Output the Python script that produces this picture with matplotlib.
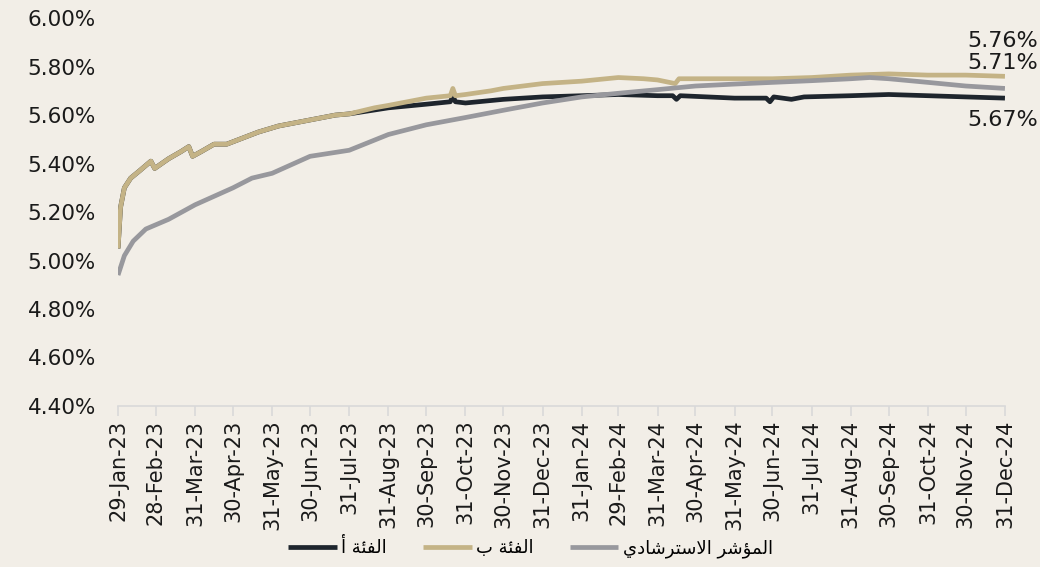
import numpy as np
import pandas as pd
import matplotlib
matplotlib.use("Agg")
import matplotlib.pyplot as plt

# --- data (values in %) ---
dates_b = ["2023-01-29", "2023-01-31", "2023-02-03", "2023-02-08", "2023-02-15", "2023-02-24",
           "2023-02-27", "2023-03-10", "2023-03-20", "2023-03-26", "2023-03-29", "2023-04-05",
           "2023-04-15", "2023-04-25", "2023-05-05", "2023-05-20", "2023-06-05", "2023-06-30",
           "2023-07-20", "2023-07-31", "2023-08-20", "2023-08-31", "2023-09-20", "2023-09-30",
           "2023-10-19", "2023-10-21", "2023-10-23", "2023-10-31", "2023-11-20", "2023-11-30",
           "2023-12-31", "2024-01-31", "2024-02-29", "2024-03-20", "2024-03-31", "2024-04-14",
           "2024-04-17", "2024-05-15", "2024-06-30", "2024-07-31", "2024-08-31", "2024-09-30",
           "2024-10-31", "2024-11-30", "2024-12-31"]
class_b = [5.05, 5.22, 5.30, 5.34, 5.37, 5.41,
           5.38, 5.42, 5.45, 5.47, 5.43, 5.45,
           5.48, 5.48, 5.50, 5.53, 5.555, 5.58,
           5.60, 5.605, 5.63, 5.64, 5.66, 5.67,
           5.68, 5.71, 5.68, 5.685, 5.70, 5.71,
           5.73, 5.74, 5.755, 5.75, 5.745, 5.73,
           5.75, 5.75, 5.75, 5.755, 5.765, 5.77,
           5.765, 5.765, 5.76]

dates_a = ["2023-01-29", "2023-01-31", "2023-02-03", "2023-02-08", "2023-02-15", "2023-02-24",
           "2023-02-27", "2023-03-10", "2023-03-20", "2023-03-26", "2023-03-29", "2023-04-05",
           "2023-04-15", "2023-04-25", "2023-05-05", "2023-05-20", "2023-06-05", "2023-06-30",
           "2023-07-20", "2023-07-31", "2023-08-31", "2023-09-30", "2023-10-19", "2023-10-21",
           "2023-10-23", "2023-10-31", "2023-11-30", "2023-12-31", "2024-01-31", "2024-02-29",
           "2024-03-31", "2024-04-12", "2024-04-15", "2024-04-18", "2024-05-31", "2024-06-25",
           "2024-06-28", "2024-07-01", "2024-07-15", "2024-07-25", "2024-08-31", "2024-09-30",
           "2024-10-31", "2024-11-30", "2024-12-31"]
class_a = [5.05, 5.22, 5.30, 5.34, 5.37, 5.41,
           5.38, 5.42, 5.45, 5.47, 5.43, 5.45,
           5.48, 5.48, 5.50, 5.53, 5.555, 5.58,
           5.60, 5.605, 5.63, 5.645, 5.655, 5.68,
           5.655, 5.65, 5.665, 5.675, 5.68, 5.685,
           5.68, 5.68, 5.665, 5.68, 5.67, 5.67,
           5.655, 5.675, 5.665, 5.675, 5.68, 5.685,
           5.68, 5.675, 5.67]

dates_bm = ["2023-01-29", "2023-02-03", "2023-02-10", "2023-02-20", "2023-03-10", "2023-03-31",
            "2023-04-30", "2023-05-15", "2023-05-31", "2023-06-30", "2023-07-31", "2023-08-31",
            "2023-09-30", "2023-10-31", "2023-11-30", "2023-12-31", "2024-01-31", "2024-02-29",
            "2024-03-31", "2024-04-30", "2024-05-31", "2024-06-30", "2024-07-31", "2024-08-31",
            "2024-09-15", "2024-09-30", "2024-10-31", "2024-11-30", "2024-12-31"]
benchmark = [4.94, 5.02, 5.08, 5.13, 5.17, 5.23,
             5.30, 5.34, 5.36, 5.43, 5.455, 5.52,
             5.56, 5.59, 5.62, 5.65, 5.675, 5.69,
             5.705, 5.72, 5.728, 5.735, 5.742, 5.75,
             5.755, 5.75, 5.735, 5.72, 5.71]

tick_dates = ["2023-01-29", "2023-02-28", "2023-03-31", "2023-04-30", "2023-05-31", "2023-06-30",
              "2023-07-31", "2023-08-31", "2023-09-30", "2023-10-31", "2023-11-30", "2023-12-31",
              "2024-01-31", "2024-02-29", "2024-03-31", "2024-04-30", "2024-05-31", "2024-06-30",
              "2024-07-31", "2024-08-31", "2024-09-30", "2024-10-31", "2024-11-30", "2024-12-31"]

end_values = [5.76, 5.71, 5.67]

# Arabic labels, pre-shaped (presentation forms) in visual order
label_a = "\uFE83 \uFE94\uFE8C\uFED4\uFEDF\uFE8D"            # الفئة أ
label_b = "\uFE8F \uFE94\uFE8C\uFED4\uFEDF\uFE8D"            # الفئة ب
label_bm = ("\uFEF1\uFEA9\uFE8E\uFEB7\uFEAE\uFE98\uFEB3\uFEFB\uFE8D "
            "\uFEAE\uFEB7\uFE86\uFEE4\uFEDF\uFE8D")             # المؤشر الاسترشادي

bg = "#F2EEE7"
c_a = "#1E252D"
c_b = "#C4B386"
c_bm = "#98989D"
txt = "#1a1a1a"

plt.rcParams['font.family'] = ['DejaVu Sans']

fig = plt.figure(figsize=(10.4, 5.67), dpi=100, facecolor=bg)
ax = fig.add_axes([0.1135, 0.284, 0.8528, 0.684])
ax.set_facecolor(bg)

ax.plot(pd.to_datetime(dates_a), class_a, color=c_a, lw=3.4, label=label_a, solid_capstyle='butt')
ax.plot(pd.to_datetime(dates_b), class_b, color=c_b, lw=3.4, label=label_b, solid_capstyle='butt')
ax.plot(pd.to_datetime(dates_bm), benchmark, color=c_bm, lw=3.4, label=label_bm, solid_capstyle='butt')

ax.set_xlim(pd.Timestamp(tick_dates[0]), pd.Timestamp(tick_dates[-1]))
ax.set_ylim(4.40, 6.00)
yt = np.arange(4.40, 6.001, 0.20)
ax.set_yticks(yt)
ax.set_yticklabels([f"{v:.2f}%" for v in yt], fontsize=15.5, color=txt)

ticks = pd.to_datetime(tick_dates)
ax.set_xticks(ticks)
ax.set_xticklabels([d.strftime("%d-%b-%y") for d in ticks], rotation=90, fontsize=15, color=txt)

for s in ["top", "right", "left"]:
    ax.spines[s].set_visible(False)
ax.spines["bottom"].set_color("#D9D9D9")
ax.spines["bottom"].set_linewidth(1.2)
ax.tick_params(axis="y", length=0, pad=16)
ax.tick_params(axis="x", length=7, color="#D9D9D9", width=1.2, pad=3)

# end value labels
offsets = [0.145, 0.105, -0.091]
for v, off in zip(end_values, offsets):
    ax.text(pd.Timestamp("2024-12-29"), v + off, f"{v:.2f}%", fontsize=16,
            ha="center", va="center", color=txt)

fig.legend(loc="lower center", bbox_to_anchor=(0.51, -0.012), ncol=3, frameon=False,
           handlelength=2.7, handletextpad=0.25, columnspacing=2.0,
           prop={"family": "DejaVu Sans", "size": 13})

fig.savefig("out.png", dpi=100, facecolor=bg)
